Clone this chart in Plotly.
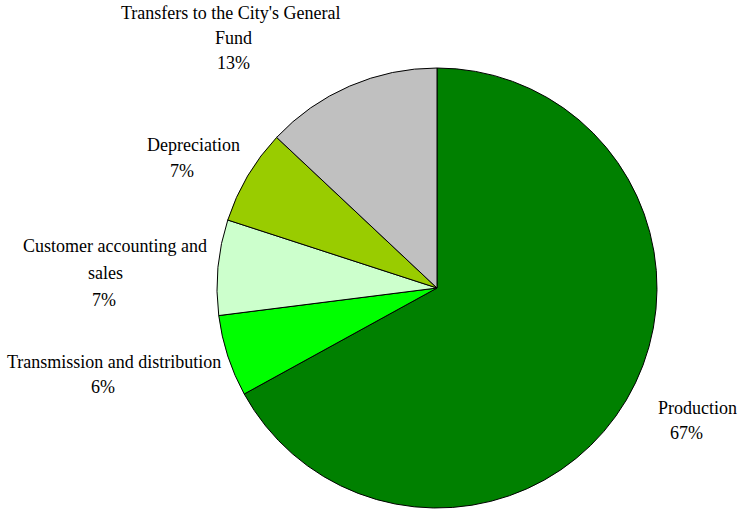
import plotly.graph_objects as go

categories = ["Production", "Transmission and distribution", "Customer accounting and sales",
              "Depreciation", "Transfers to the City's General Fund"]
values = [67, 6, 7, 7, 13]
colors = ["#008000", "#00FF00", "#CCFFCC", "#99CC00", "#C0C0C0"]

# label lines (as drawn) and pct text
label_lines = [
    ["Production"],
    ["Transmission and distribution"],
    ["Customer accounting and", "sales"],
    ["Depreciation"],
    ["Transfers to the City's General", "Fund"],
]
pct_text = [f"{v}%" for v in values]

W, H = 739, 509
cx, cy, R = 437, 288, 220

# pixel anchors for each text line (center x, center y)
label_pos = [
    [(697, 408), (686, 433)],
    [(114, 362), (103, 387)],
    [(115, 246), (105, 273), (104, 300)],
    [(193, 145), (182, 171)],
    [(231, 13), (234, 38), (234, 63)],
]

fig = go.Figure(go.Pie(
    labels=categories, values=values, sort=False, direction="clockwise", rotation=0,
    marker=dict(colors=colors, line=dict(color="black", width=1)),
    textinfo="none", hoverinfo="label+percent", showlegend=False,
    domain=dict(x=[(cx - R) / W, (cx + R) / W], y=[1 - (cy + R) / H, 1 - (cy - R) / H]),
))

annotations = []
for lines, pct, pos in zip(label_lines, pct_text, label_pos):
    texts = lines + [pct]
    for t, (px, py) in zip(texts, pos):
        annotations.append(dict(
            text=t, x=px / W, y=1 - py / H, xref="paper", yref="paper",
            xanchor="center", yanchor="middle", showarrow=False,
            font=dict(family="Liberation Serif, Times New Roman, serif", size=18, color="black"),
        ))

fig.update_layout(
    width=W, height=H, margin=dict(l=0, r=0, t=0, b=0),
    paper_bgcolor="white", plot_bgcolor="white", annotations=annotations,
)
fig.write_html("out.html", config={"displayModeBar": False},
               post_script="document.body.style.margin='0';document.body.style.overflow='hidden';")
